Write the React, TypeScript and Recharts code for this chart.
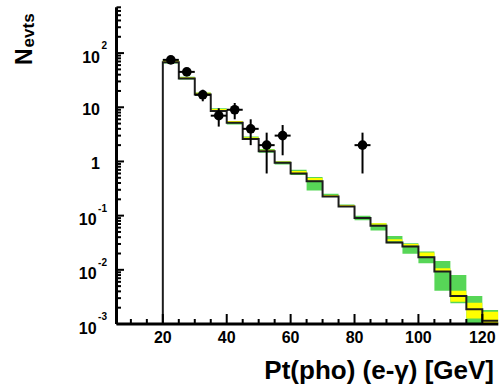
import React from "react";
import {
  ComposedChart,
  Area,
  Line,
  Scatter,
  ErrorBar,
  XAxis,
  YAxis,
} from "recharts";

// MC prediction, one value per 5 GeV bin (lower edges)
const binEdges = [
  20, 25, 30, 35, 40, 45, 50, 55, 60, 65, 70, 75, 80, 85, 90, 95, 100, 105, 110,
  115, 120,
];
const lastEdge = 125;
const mcCounts = [
  68, 34, 17.2, 8.5, 5.2, 2.6, 1.55, 0.95, 0.6, 0.43, 0.225, 0.148, 0.09, 0.065,
  0.032, 0.027, 0.0171, 0.0093, 0.0033, 0.00187, 0.00115,
];
// green band (wide)
const greenLow = [
  64, 32.5, 16.5, 8.2, 4.8, 2.55, 1.45, 0.88, 0.56, 0.29, 0.22, 0.145, 0.082,
  0.053, 0.031, 0.0197, 0.01325, 0.00413, 0.00242, 0.00103, 0.001,
];
const greenHigh = [
  76, 36.5, 18.8, 9.6, 5.6, 2.9, 1.7, 1.01, 0.7, 0.515, 0.253, 0.16, 0.1,
  0.0727, 0.0423, 0.031, 0.0217, 0.01462, 0.00805, 0.0033, 0.00181,
];
// yellow band (narrow)
const yellowLow = [
  67, 33.5, 17.2, 8.5, 5.2, 2.6, 1.55, 0.95, 0.61, 0.445, 0.225, 0.148, 0.088,
  0.0676, 0.0338, 0.0277, 0.01754, 0.00955, 0.00258, 0.00127, 0.001,
];
const yellowHigh = [
  74, 36, 18.5, 9.3, 5.6, 2.8, 1.65, 1.0, 0.665, 0.493, 0.24, 0.157, 0.094,
  0.0727, 0.0368, 0.0301, 0.0208, 0.0107, 0.00413, 0.00248, 0.00169,
];

// data points
const dataPt = [22.5, 27.5, 32.5, 37.5, 42.5, 47.5, 52.5, 57.5, 82.5];
const dataN = [75, 45, 17, 7, 9, 4, 2, 3, 2];
const dataErr = [8.7, 6.7, 4.1, 2.6, 3.0, 2.0, 1.4, 1.7, 1.4];
const dataHalfBin = [2.5, 2.5, 2.5, 2.5, 2.5, 2.5, 2.5, 2.5, 2.5];

// axes
const xMin = 5.5;
const yMin = 0.001;
const yMax = 700;
const xTicks = [
  10, 15, 20, 25, 30, 35, 40, 45, 50, 55, 60, 65, 70, 75, 80, 85, 90, 95, 100,
  105, 110, 115, 120,
];
const xLabels = [20, 40, 60, 80, 100, 120];
const decades = [0.001, 0.01, 0.1, 1, 10, 100];
const decadeBase = ["10", "10", "10", "1", "10", "10"];
const decadeExp = ["-3", "-2", "-1", "", "", "2"];

const yTicks: number[] = [];
decades.forEach((d) => {
  for (let m = 1; m <= 9; m++) {
    if (m * d <= yMax) yTicks.push(m === 1 ? d : m * d);
  }
});

const allEdges = [...binEdges, lastEdge];
const bandRows = allEdges.map((x, i) => {
  const j = Math.min(i, binEdges.length - 1);
  return {
    x,
    green: [greenLow[j], greenHigh[j]],
    yellow: [yellowLow[j], yellowHigh[j]],
  };
});
const histRows = [
  { x: binEdges[0], y: yMin },
  ...allEdges.map((x, i) => ({
    x,
    y: mcCounts[Math.min(i, binEdges.length - 1)],
  })),
];
const pointRows = dataPt.map((x, i) => ({
  x,
  y: dataN[i],
  ey: dataErr[i],
  ex: dataHalfBin[i],
}));

const font = "'Liberation Sans', Arial, Helvetica, sans-serif";
const frame = { stroke: "#000", strokeWidth: 3 };

const XTick = (props: any) => {
  const { x, y, payload } = props;
  const major = xLabels.includes(payload.value);
  return (
    <g>
      <line
        x1={x}
        x2={x}
        y1={y}
        y2={y - (major ? 10 : 5)}
        stroke="#000"
        strokeWidth={2}
      />
      {major && (
        <text
          x={x}
          y={y + 19.3}
          textAnchor="middle"
          fontFamily={font}
          fontWeight="bold"
          fontSize={16}
          fill="#000"
        >
          {payload.value}
        </text>
      )}
    </g>
  );
};

const YTick = (props: any) => {
  const { x, y, payload } = props;
  const k = decades.indexOf(payload.value);
  if (k < 0) {
    return <line x1={x} x2={x + 4.5} y1={y} y2={y} stroke="#000" strokeWidth={2} />;
  }
  const exp = decadeExp[k];
  return (
    <g>
      <line x1={x} x2={x + 7.5} y1={y} y2={y} stroke="#000" strokeWidth={2} />
      <text
        x={exp ? x - 9.5 : x - 16.5}
        y={y + (exp ? 9.5 : 8)}
        textAnchor="end"
        fontFamily={font}
        fontWeight="bold"
        fontSize={16}
        fill="#000"
      >
        {decadeBase[k]}
        {exp && (
          <tspan dx={1.5} dy={-13.5} fontSize={10}>
            {exp}
          </tspan>
        )}
      </text>
    </g>
  );
};

export default function App() {
  return (
    <div style={{ position: "absolute", left: 0, top: 0, width: 503, height: 389 }}>
      <ComposedChart
        width={503}
        height={389}
        margin={{ top: 7.3, right: 4.7, left: 16.5, bottom: 35 }}
      >
        <XAxis
          dataKey="x"
          type="number"
          domain={[xMin, lastEdge]}
          ticks={xTicks}
          interval={0}
          allowDataOverflow
          axisLine={frame}
          tickLine={false}
          tickSize={0}
          tickMargin={0}
          height={30}
          tick={<XTick />}
        />
        <XAxis
          xAxisId="top"
          orientation="top"
          dataKey="x"
          type="number"
          domain={[xMin, lastEdge]}
          allowDataOverflow
          axisLine={frame}
          tick={false}
          tickLine={false}
          height={0}
        />
        <YAxis
          type="number"
          scale="log"
          domain={[yMin, yMax]}
          ticks={yTicks}
          interval={0}
          allowDataOverflow
          axisLine={frame}
          tickLine={false}
          tickSize={0}
          tickMargin={0}
          width={100}
          tick={<YTick />}
        />
        <YAxis
          yAxisId="right"
          orientation="right"
          type="number"
          scale="log"
          domain={[yMin, yMax]}
          allowDataOverflow
          axisLine={frame}
          tick={false}
          tickLine={false}
          width={0}
        />
        <Area
          data={bandRows}
          dataKey="green"
          type="stepAfter"
          stroke="none"
          fill="#57d657"
          fillOpacity={1}
          isAnimationActive={false}
        />
        <Area
          data={bandRows}
          dataKey="yellow"
          type="stepAfter"
          stroke="none"
          fill="#ffff00"
          fillOpacity={1}
          isAnimationActive={false}
        />
        <Line
          data={histRows}
          dataKey="y"
          type="stepAfter"
          stroke="#1c1c1c"
          strokeWidth={2}
          dot={false}
          activeDot={false}
          isAnimationActive={false}
        />
        <Scatter
          data={pointRows}
          dataKey="y"
          fill="#000"
          isAnimationActive={false}
          shape={(p: any) => <circle cx={p.cx} cy={p.cy} r={4.8} fill="#000" />}
        >
          <ErrorBar dataKey="ey" direction="y" width={0} stroke="#000" strokeWidth={2} isAnimationActive={false} />
          <ErrorBar dataKey="ex" direction="x" width={0} stroke="#000" strokeWidth={2} isAnimationActive={false} />
        </Scatter>
      </ComposedChart>
      <svg
        width={503}
        height={389}
        style={{ position: "absolute", left: 0, top: 0, pointerEvents: "none" }}
      >
        <text
          x={494}
          y={379}
          textAnchor="end"
          fontFamily={font}
          fontWeight="bold"
          fontSize={26}
          fill="#000"
        >
          Pt(pho) (e-γ) [GeV]
        </text>
        <text
          transform="rotate(-90)"
          x={-65}
          y={32}
          fontFamily={font}
          fontWeight="bold"
          fontSize={23}
          fill="#000"
        >
          N
          <tspan dx={1} dy={1.5} fontSize={17}>
            evts
          </tspan>
        </text>
      </svg>
    </div>
  );
}
